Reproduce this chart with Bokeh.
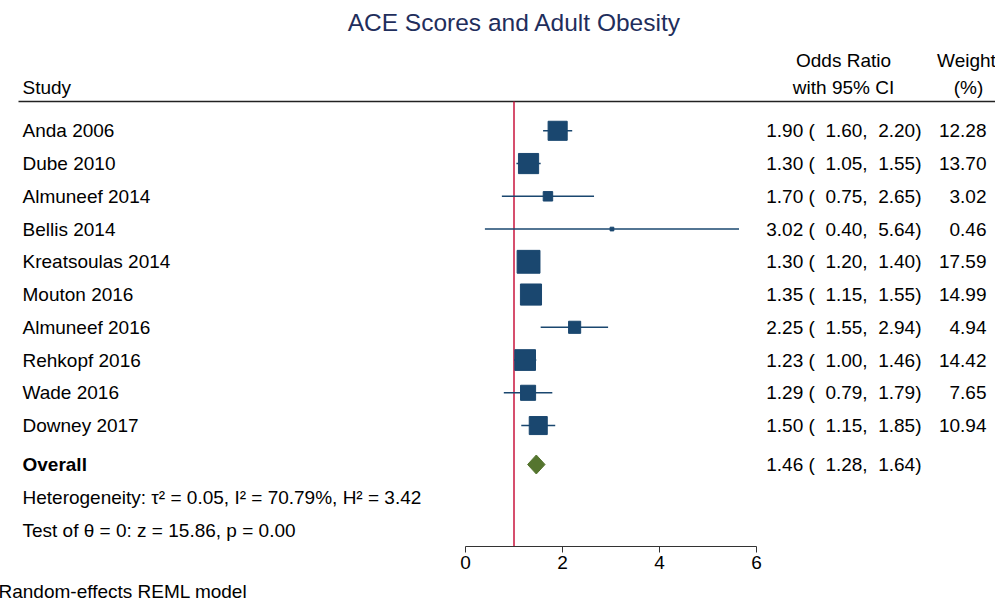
from bokeh.plotting import figure
from bokeh.models import ColumnDataSource, Range1d, FixedTicker, Title
from bokeh.embed import file_html
from bokeh.resources import INLINE
from bokeh.core.properties import value
import math

# ---- data ----
studies = ["Anda 2006", "Dube 2010", "Almuneef 2014", "Bellis 2014", "Kreatsoulas 2014",
           "Mouton 2016", "Almuneef 2016", "Rehkopf 2016", "Wade 2016", "Downey 2017"]
or_est = [1.90, 1.30, 1.70, 3.02, 1.30, 1.35, 2.25, 1.23, 1.29, 1.50]
ci_low = [1.60, 1.05, 0.75, 0.40, 1.20, 1.15, 1.55, 1.00, 0.79, 1.15]
ci_high = [2.20, 1.55, 2.65, 5.64, 1.40, 1.55, 2.94, 1.46, 1.79, 1.85]
weights = [12.28, 13.70, 3.02, 0.46, 17.59, 14.99, 4.94, 14.42, 7.65, 10.94]
overall_est = [1.46]
overall_low = [1.28]
overall_high = [1.64]
x_ticks = [0, 2, 4, 6]
heterogeneity_text = "Heterogeneity: \u03c4\u00b2 = 0.05, I\u00b2 = 70.79%, H\u00b2 = 3.42"
test_text = "Test of \u03b8 = 0: z = 15.86, p = 0.00"
title_text = "ACE Scores and Adult Obesity"
footer_text = "Random-effects REML model"

FONT = value("Liberation Sans")
FS = "19px"
NAVY = "#1A476F"
GREEN = "#55752F"
RED = "#C8143C"

# ---- layout helpers (rows as index, x in odds-ratio units) ----
W = 995
px_per_unit = 48.5
x_start = (0 - 465) / px_per_unit
x_end = (W - 465) / px_per_unit
row_px = 32.75
row0 = 130.3
frame_h = 546
y_top = -row0 / row_px
y_bot = (frame_h - row0) / row_px

def xpos(px):
    return (px - 465) / px_per_unit

def ypos(py):
    return (py - row0) / row_px

def ci_fmt(e, l, h):
    return ("%.2f (%6.2f,%6.2f)" % (e, l, h)).replace(" ", "\u00a0")

rows = list(range(len(studies)))
ci_labels = [ci_fmt(e, l, h) for e, l, h in zip(or_est, ci_low, ci_high)]
w_labels = ["%.2f" % w for w in weights]
sizes = [5.45 * math.sqrt(w) for w in weights]

src = ColumnDataSource(dict(study=studies, est=or_est, lo=ci_low, hi=ci_high, row=rows,
                            ci=ci_labels, wl=w_labels, size=sizes))

p = figure(frame_width=W, frame_height=frame_h, output_backend="svg", toolbar_location=None,
           x_range=Range1d(x_start, x_end), y_range=Range1d(y_bot, y_top),
           y_axis_location=None, min_border_left=0, min_border_right=0, min_border_top=0,
           min_border_bottom=0, outline_line_color=None)
p.grid.visible = False

# x axis
ax = p.xaxis[0]
ax.ticker = FixedTicker(ticks=x_ticks)
ax.bounds = (0, 6)
ax.major_tick_out = 6
ax.major_tick_in = 0
ax.minor_tick_line_color = None
ax.axis_line_color = "#333333"
ax.major_tick_line_color = "#333333"
ax.major_label_text_font = "Liberation Sans"
ax.major_label_text_font_size = FS
ax.major_label_text_color = "black"
ax.major_label_standoff = 3

# footer
foot = Title(text=footer_text, align="left", text_font="Liberation Sans", text_font_size=FS,
             text_font_style="normal", text_color="black", standoff=14, offset=-2)
p.add_layout(foot, "below")

# header line & reference line
hdr_y = ypos(101)
p.segment(x0=[xpos(18)], y0=[hdr_y], x1=[x_end], y1=[hdr_y], line_color="#222222", line_width=1.5)
p.segment(x0=[1], y0=[hdr_y], x1=[1], y1=[y_bot], line_color=RED, line_width=1.5)

# CIs and squares
p.segment(x0="lo", y0="row", x1="hi", y1="row", source=src, line_color=NAVY, line_width=1.5)
p.scatter(x="est", y="row", size="size", marker="square", source=src,
          fill_color=NAVY, line_color=NAVY)

# overall diamond
orow = ypos(464)
h = 0.29
p.patch(x=[overall_low[0], overall_est[0], overall_high[0], overall_est[0]],
        y=[orow, orow - h, orow, orow + h], fill_color=GREEN, line_color=GREEN)

# texts
txt = dict(text_font=FONT, text_font_size=FS, text_color="black", text_baseline="middle")
p.text(x=xpos(22), y="row", text="study", source=src, text_align="left", **txt)
p.text(x=xpos(921), y="row", text="ci", source=src, text_align="right", **txt)
p.text(x=xpos(986), y="row", text="wl", source=src, text_align="right", **txt)

p.text(x=[xpos(22)], y=[orow], text=["Overall"], text_align="left", text_font_style="bold", **txt)
p.text(x=[xpos(921)], y=[orow], text=[ci_fmt(overall_est[0], overall_low[0], overall_high[0])],
       text_align="right", **txt)
p.text(x=[xpos(22)], y=[ypos(497)], text=[heterogeneity_text], text_align="left", **txt)
p.text(x=[xpos(22)], y=[ypos(530)], text=[test_text], text_align="left", **txt)

# headers
p.text(x=[xpos(22)], y=[ypos(87)], text=["Study"], text_align="left", **txt)
p.text(x=[xpos(843), xpos(843)], y=[ypos(60), ypos(87)], text=["Odds Ratio", "with 95% CI"],
       text_align="center", **txt)
p.text(x=[xpos(966), xpos(968)], y=[ypos(60), ypos(87)], text=["Weight", "(%)"],
       text_align="center", **txt)

# title
p.text(x=[xpos(514)], y=[ypos(22)], text=[title_text], text_align="center",
       text_font=FONT, text_font_size="24.5px", text_color="#1F2E5C", text_baseline="middle")

open("out.html", "w").write(file_html(p, INLINE))
